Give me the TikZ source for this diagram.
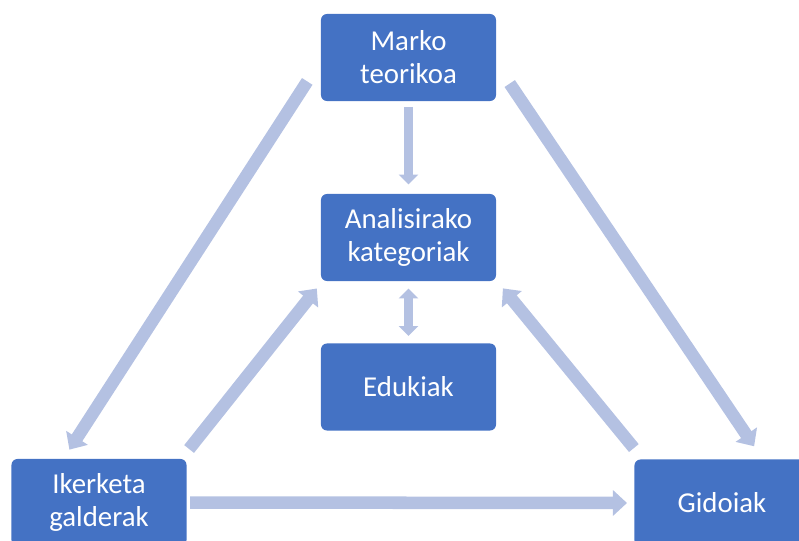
\documentclass[tikz,border=0pt]{standalone}
\usepackage{fontspec}
\setmainfont{Carlito}
\usetikzlibrary{arrows.meta}
\definecolor{boxblue}{RGB}{68,114,196}
\definecolor{arrowblue}{RGB}{180,193,226}
\begin{document}
\begin{tikzpicture}
    [%%%%%%%%%%%%%%%%%%%%%%%%%%%%%%
        x=0.025cm, y=-0.025cm,
        box/.style={rectangle, rounded corners=0.15cm, fill=boxblue, text=white,
            minimum width=4.375cm, minimum height=2.175cm, align=center,
            font=\fontsize{20.5}{23.5}\selectfont},
        bigarrow/.style={draw=arrowblue, line width=8.9pt,
            -{Triangle[width=17.8pt,length=10pt]}},
        smallarrow/.style={draw=arrowblue, line width=6.4pt,
            -{Triangle[width=13.5pt,length=7pt]}},
    ]%%%%%%%%%%%%%%%%%%%%%%%%%%%%%%

\useasboundingbox (0,0) rectangle (799,540);
\clip (0,0) rectangle (799,540);

\node[box] (marko) at (408.5,57.5) {Marko\\teorikoa};
\node[box] (analisi) at (408.5,237.5) {Analisirako\\kategoriak};
\node[box] (edukiak) at (408.5,387) {Edukiak};
\node[box] (ikerketa) at (99,502.5) {Ikerketa\\galderak};
\node[box] (gidoiak) at (722,503) {Gidoiak};

% gezi txikiak
\draw[smallarrow, shorten <=0.14cm, shorten >=0.23cm] (marko.south) -- (analisi.north);
\draw[smallarrow, {Triangle[width=13.5pt,length=7pt]}-{Triangle[width=13.5pt,length=7pt]},
    shorten <=0.18cm, shorten >=0.18cm] (analisi.south) -- (edukiak.north);

% gezi handiak
\draw[bigarrow, shorten <=0.62cm, shorten >=0.27cm] (marko.182) -- (ikerketa.129);
\draw[bigarrow, shorten <=0.6cm, shorten >=0.39cm] (marko.-4.5) -- (gidoiak.47);
\draw[bigarrow, shorten <=0.31cm, shorten >=0.23cm] (ikerketa.28) -- (analisi.207.6);
\draw[bigarrow, shorten <=0.36cm, shorten >=0.26cm] (gidoiak.151) -- (analisi.-26);
\draw[bigarrow, shorten <=0.08cm, shorten >=0.18cm] (ikerketa.east) -- (gidoiak.west);
\end{tikzpicture}
\end{document}
